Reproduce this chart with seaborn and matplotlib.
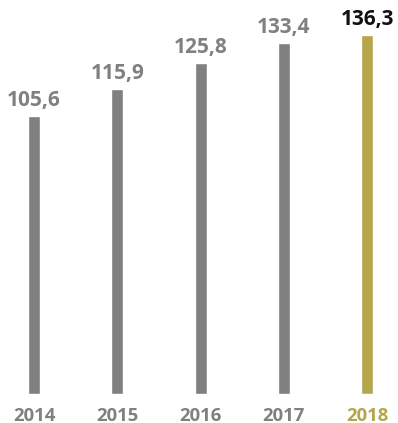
import matplotlib
matplotlib.use("Agg")
import matplotlib.pyplot as plt
import seaborn as sns
import pandas as pd

years = ["2014", "2015", "2016", "2017", "2018"]
values = [105.6, 115.9, 125.8, 133.4, 136.3]
labels = ["105,6", "115,9", "125,8", "133,4", "136,3"]

GRAY = "#808080"
OLIVE = "#b5a64c"
bar_colors = [GRAY, GRAY, GRAY, GRAY, OLIVE]
label_colors = [GRAY, GRAY, GRAY, GRAY, "#111111"]
tick_colors = [GRAY, GRAY, GRAY, GRAY, OLIVE]

sns.set_style("white")
plt.rcParams["font.family"] = ["Open Sans", "DejaVu Sans"]

df = pd.DataFrame({"year": years, "value": values})

fig = plt.figure(figsize=(3.98, 4.23), dpi=100)
ax = fig.add_axes([0, 29 / 423, 1, 394 / 423])

sns.barplot(data=df, x="year", y="value", hue="year", palette=bar_colors,
            legend=False, width=0.144, saturation=1, ax=ax)

ax.set_xlim(-34 / 83.3, (398 - 34) / 83.3)
ax.set_ylim(0, 394 / 2.633)

for i, (v, t, c) in enumerate(zip(values, labels, label_colors)):
    ax.annotate(t, xy=(i, v), xytext=(0, 7.2), textcoords="offset points",
                ha="center", va="baseline", fontsize=15, fontweight="bold",
                color=c)

ax.set_xticks(range(len(years)))
ax.set_xticklabels(years, fontsize=13.3, fontweight="bold")
for tl, c in zip(ax.get_xticklabels(), tick_colors):
    tl.set_color(c)
ax.tick_params(axis="x", length=0, pad=9)
ax.set_yticks([])
ax.set_xlabel("")
ax.set_ylabel("")
sns.despine(ax=ax, left=True, bottom=True, top=True, right=True)

fig.savefig("out.png", dpi=100)
